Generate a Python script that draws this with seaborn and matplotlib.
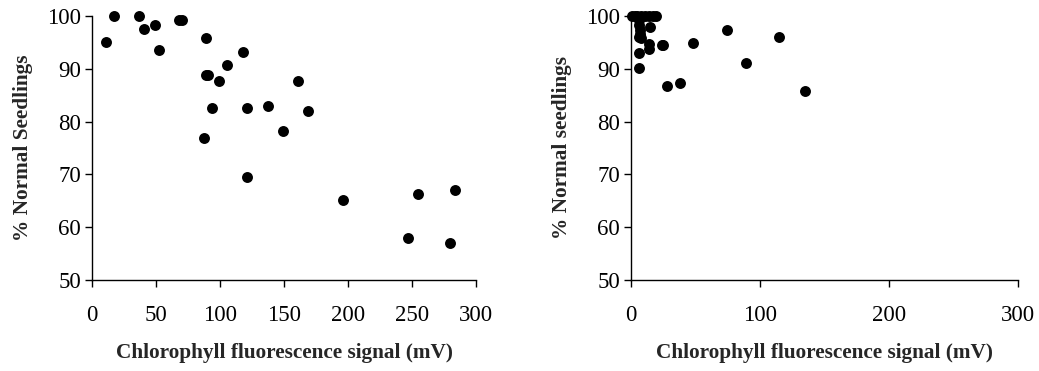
import matplotlib
matplotlib.use("Agg")
import matplotlib.pyplot as plt
import seaborn as sns
import pandas as pd

# Left panel data
left_signal = [11, 17.5, 37, 40.7, 49.5, 52.4, 68, 70, 88.9, 89, 90.5, 87.3, 93.6, 99,
               105.5, 118.3, 121, 121, 137.6, 149.3, 161, 168.9, 196, 255, 284, 247, 280]
left_normal = [95.1, 100, 100, 97.6, 98.2, 93.6, 99.2, 99.2, 95.8, 88.9, 88.9, 76.8, 82.6, 87.6,
               90.8, 93.2, 82.6, 69.5, 83, 78.3, 87.6, 82.1, 65.1, 66.3, 67, 57.9, 57.0]

# Right panel data
right_signal = [1, 3, 5, 8, 11, 14, 17, 19, 6, 6, 7, 7, 6, 8, 15, 14, 14, 25, 24, 6, 6,
                28, 38, 48, 74, 89, 115, 135]
right_normal = [100, 100, 100, 100, 100, 100, 100, 100, 99.2, 98.3, 97.4, 96.5, 96, 95.8, 97.9,
                94.7, 93.7, 94.5, 94.5, 92.9, 90.2, 86.7, 87.3, 94.9, 97.3, 91.1, 96.1, 85.8]

sns.set_style("white")
plt.rcParams['font.family'] = ['Liberation Serif', 'DejaVu Serif']

fig = plt.figure(figsize=(10.39, 3.71), dpi=100)
ax1 = fig.add_axes([0.0885, 0.2453, 0.3696, 0.7116])
ax2 = fig.add_axes([0.6073, 0.2453, 0.3728, 0.7116])

panels = [
    (ax1, left_signal, left_normal, "% Normal Seedlings", [0, 50, 100, 150, 200, 250, 300]),
    (ax2, right_signal, right_normal, "% Normal seedlings", [0, 100, 200, 300]),
]

for ax, xs, ys, ylab, xt in panels:
    df = pd.DataFrame({"x": xs, "y": ys})
    sns.scatterplot(data=df, x="x", y="y", ax=ax, color="black", s=62,
                    edgecolor="black", linewidth=0, clip_on=False, zorder=3)
    ax.set_xlim(0, 300)
    ax.set_ylim(50, 100)
    ax.set_xticks(xt)
    ax.set_yticks([50, 60, 70, 80, 90, 100])
    for s in ["top", "right"]:
        ax.spines[s].set_visible(False)
    for s in ["left", "bottom"]:
        ax.spines[s].set_color("black")
        ax.spines[s].set_linewidth(1.0)
    ax.tick_params(axis="both", which="major", direction="out", length=5, width=1,
                   color="black", labelsize=16.5, labelcolor="black",
                   bottom=True, left=True)
    ax.tick_params(axis="x", pad=13)
    ax.tick_params(axis="y", pad=3)
    ax.set_xlabel("Chlorophyll fluorescence signal (mV)", fontsize=15.3,
                  fontweight="bold", labelpad=12)
    ax.set_ylabel(ylab, fontsize=15.3, fontweight="bold", labelpad=10)
    ax.set_facecolor("white")

fig.savefig("out.png", dpi=100, facecolor="white")
